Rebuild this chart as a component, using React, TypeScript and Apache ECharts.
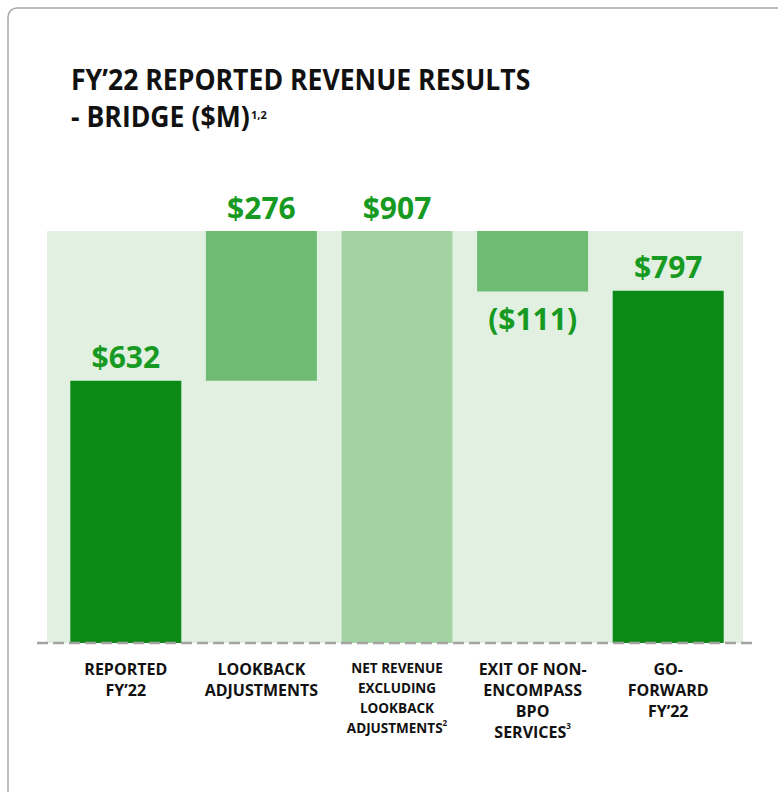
import React, { useEffect, useRef } from "react";
import * as echarts from "echarts";

// ---- data ----
const categories = [
  "REPORTED\nFY’22",
  "LOOKBACK\nADJUSTMENTS",
  "NET REVENUE\nEXCLUDING\nLOOKBACK\nADJUSTMENTS²",
  "EXIT OF NON-\nENCOMPASS\nBPO\nSERVICES³",
  "GO-\nFORWARD\nFY’22",
];
const values = [632, 276, 907, -111, 797];
const kinds = ["total", "delta", "total", "delta", "total"];
const valueLabels = ["$632", "$276", "$907", "($111)", "$797"];
const titleLine1 = "FY’22 REPORTED REVENUE RESULTS";
const titleLine2 = "- BRIDGE ($M)";
const titleSup = "1,2";

const DARK = "#0d8a15";
const MID = "#6fbb74";
const LIGHT = "#a3d3a2";
const BG = "#e1f0e1";
const LABEL_GREEN = "#179a21";
const FONT = "'Open Sans', 'Noto Sans', sans-serif";

export default function App() {
  const ref = useRef<HTMLDivElement>(null);

  useEffect(() => {
    if (!ref.current) return;
    const chart = echarts.init(ref.current, undefined, { renderer: "svg" });

    // compute waterfall base / height
    const base: number[] = [];
    const heights: number[] = [];
    let running = 0;
    values.forEach((v, i) => {
      if (kinds[i] === "total") {
        base.push(0);
        heights.push(v);
        running = v;
      } else if (v >= 0) {
        base.push(running);
        heights.push(v);
        running += v;
      } else {
        base.push(running + v);
        heights.push(-v);
        running += v;
      }
    });
    const colors = [DARK, MID, LIGHT, MID, DARK];

    const visibleData = heights.map((h, i) => ({
      value: h,
      itemStyle: { color: colors[i] },
      label: {
        show: true,
        position: values[i] < 0 ? "bottom" : "top",
        distance: values[i] < 0 ? 12 : 9,
        formatter: valueLabels[i],
        color: LABEL_GREEN,
        fontFamily: FONT,
        fontWeight: "bold",
        fontSize: 30,
      },
    }));

    const richCat = {
      n: {
        fontFamily: FONT,
        fontWeight: "bold",
        fontSize: 16,
        lineHeight: 21,
        color: "#111",
      },
      s: {
        fontFamily: FONT,
        fontWeight: "bold",
        fontSize: 13.5,
        lineHeight: 20,
        color: "#111",
      },
      sup: {
        fontFamily: FONT,
        fontWeight: "bold",
        fontSize: 8,
        lineHeight: 20,
        verticalAlign: "top",
        padding: [0, 0, 6, 0],
        color: "#111",
      },
      supn: {
        fontFamily: FONT,
        fontWeight: "bold",
        fontSize: 8,
        lineHeight: 21,
        verticalAlign: "top",
        padding: [0, 0, 7, 0],
        color: "#111",
      },
    };

    const formatCat = (val: string, idx: number) => {
      const small = idx === 2;
      const st = small ? "s" : "n";
      const supSt = small ? "sup" : "supn";
      return val
        .split("\n")
        .map((line) => {
          const m = line.match(/^(.*?)([²³¹])$/);
          if (m) {
            const map: Record<string, string> = { "¹": "1", "²": "2", "³": "3" };
            return `{${st}|${m[1]}}{${supSt}|${map[m[2]]}}`;
          }
          return `{${st}|${line}}`;
        })
        .join("\n");
    };

    chart.setOption({
      animation: false,
      grid: { left: 58, right: 42, top: 231, bottom: 149 },
      xAxis: {
        type: "category",
        data: categories,
        axisLine: { show: false },
        axisTick: { show: false },
        axisLabel: {
          interval: 0,
          margin: 15,
          formatter: formatCat,
          rich: richCat,
        },
      },
      yAxis: {
        type: "value",
        show: false,
        min: 150,
        max: 907,
        splitLine: { show: false },
      },
      graphic: [
        {
          type: "rect",
          z: -10,
          shape: { x: 8, y: 8, width: 820, height: 840, r: 9 },
          style: { fill: "#ffffff", stroke: "#a8a8a8", lineWidth: 1.5 },
        },
        {
          type: "rect",
          z: 0,
          shape: { x: 47, y: 231, width: 696, height: 412 },
          style: { fill: BG },
        },
        {
          type: "line",
          z: 100,
          shape: { x1: 37, y1: 643, x2: 752, y2: 643 },
          style: { stroke: "#a3a3a3", lineWidth: 2.5, lineDash: [11, 5] },
        },
        {
          type: "text",
          x: 71,
          y: 79,
          scaleX: 0.95,
          style: {
            text: titleLine1,
            fontFamily: FONT,
            fontWeight: "bold",
            fontSize: 28,
            fill: "#111",
            textAlign: "left",
            textVerticalAlign: "middle",
          },
        },
        {
          type: "text",
          x: 71,
          y: 116,
          scaleX: 0.95,
          style: {
            text: titleLine2,
            fontFamily: FONT,
            fontWeight: "bold",
            fontSize: 28,
            fill: "#111",
            textAlign: "left",
            textVerticalAlign: "middle",
          },
        },
        {
          type: "text",
          x: 251,
          y: 114,
          style: {
            text: titleSup,
            fontFamily: FONT,
            fontWeight: "bold",
            fontSize: 11,
            fill: "#111",
            textAlign: "left",
            textVerticalAlign: "middle",
          },
        },
      ],
      series: [
        {
          type: "bar",
          stack: "w",
          silent: true,
          barWidth: 111,
          itemStyle: { color: "transparent" },
          data: base,
          z: 2,
        },
        {
          type: "bar",
          stack: "w",
          barWidth: 111,
          data: visibleData,
          z: 3,
        },
      ],
    });

    return () => chart.dispose();
  }, []);

  return (
    <div
      ref={ref}
      style={{ position: "absolute", left: 0, top: 0, width: 778, height: 792 }}
    />
  );
}
